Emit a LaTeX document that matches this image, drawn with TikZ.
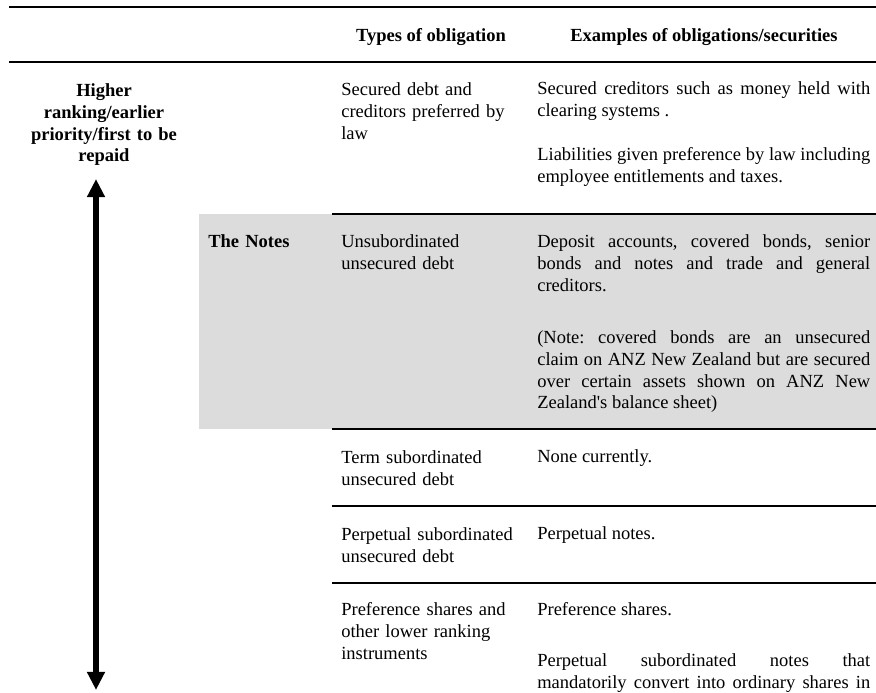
\documentclass[tikz,border=0pt]{standalone}
\usepackage{fontspec}
\newfontfamily\tabfont{Liberation Serif}
\usepackage{tikz}
\usetikzlibrary{positioning, arrows.meta}

\definecolor{notesgray}{RGB}{220,220,220}
\hyphenpenalty=10000
\exhyphenpenalty=10000
\tolerance=9999

\tikzset{
  cell/.style={anchor=base west, inner sep=0pt, text width=120pt, align=left,
    font=\tabfont\frenchspacing\fontsize{12}{13.95}\selectfont},
  boldcell/.style={cell, font=\tabfont\bfseries\fontsize{12}{13.95}\selectfont},
  para/.style={cell, text width=216pt, align=justify},
  head/.style={anchor=base, inner sep=0pt,
    font=\tabfont\bfseries\fontsize{12}{13.95}\selectfont},
  rule/.style={line width=1.7pt},
  rankarrow/.style={{Triangle[length=11.7pt,width=11pt]}-{Triangle[length=11.7pt,width=11pt]},
    line width=3.6pt}
}

\begin{document}
\begin{tikzpicture}[x=0.6486pt, y=-0.6486pt]
        \useasboundingbox (0,0) rectangle (876,693);
        \clip (0,0) rectangle (876,693);

        % shaded band for the notes
        \fill[notesgray] (199,214) rectangle (876,429);

        % rules
        \draw[rule] (9,7) -- (876,7);
        \draw[rule] (9,62) -- (876,62);
        \foreach \y in {214,429,506,583}
            \draw[rule] (332,\y) -- (876,\y);

        % header
        \node[head](types) at (431,42){Types of obligation};
        \node[head](examples) at (704,42){Examples of obligations/securities};

        % ranking
        \node[head, text width=110pt, align=center](rank) at (104,97){Higher\\ranking/earlier\\priority/first to be\\repaid};
        \coordinate (hi) at (96,179);
        \coordinate (lo) at (96,690);
        \draw[rankarrow] (hi) -- (lo);

        % rows
        \node[cell](secured) at (341,96){Secured debt and\\creditors preferred by\\law};
        \node[para](clearing) at (537,95){Secured creditors such as money held with\linebreak clearing systems .};
        \node[para](bylaw) at (537,161){Liabilities given preference by law including\linebreak employee entitlements and taxes.};

        \node[boldcell](notes) at (208,248){The Notes};
        \node[cell](unsub) at (341,248){Unsubordinated\\unsecured debt};
        \node[para](deposit) at (537,248){Deposit accounts, covered bonds, senior\linebreak bonds and notes and trade and general\linebreak creditors.};
        \node[para](covered) at (537,344){(Note: covered bonds are an unsecured\linebreak claim on ANZ New Zealand but are secured\linebreak over certain assets shown on ANZ New\linebreak Zealand's balance sheet)};

        \node[cell](term) at (341,464){Term subordinated\\unsecured debt};
        \node[para](none) at (537,463){None currently.};

        \node[cell](perp) at (341,541){Perpetual subordinated\\unsecured debt};
        \node[para](perpnotes) at (537,540){Perpetual notes.};

        \node[cell](pref) at (341,616){Preference shares and\\other lower ranking\\instruments};
        \node[para](prefshares) at (537,616){Preference shares.};
        \node[para](convert) at (537,667){\spaceskip=3pt plus 4pt minus 2pt
            Perpetual subordinated notes that\linebreak mandatorily convert into ordinary shares in\linebreak};
\end{tikzpicture}
\end{document}
